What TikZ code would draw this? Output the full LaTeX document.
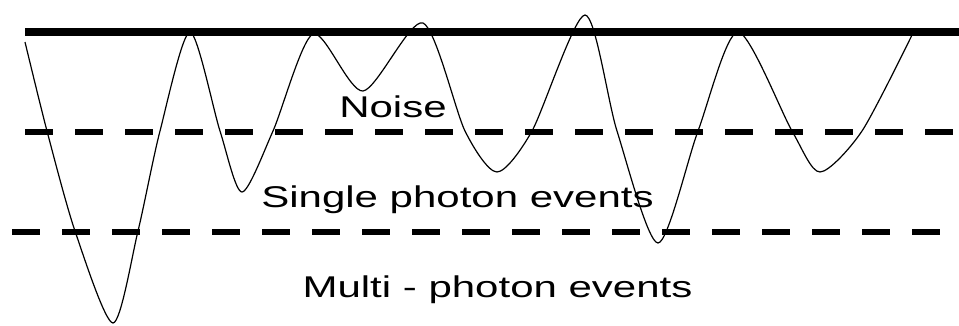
\documentclass[tikz,border=0pt]{standalone}
\usepackage{fontspec}
\setmainfont{Liberation Sans}
\usepackage{tikz}

\begin{document}
\begin{tikzpicture}[
  x=1pt, y=-1pt,
  level/.style={line width=8pt},
  threshold/.style={line width=6pt, dash pattern=on 28pt off 22pt},
  signal/.style={line width=1.2pt, line join=round},
  region/.style={anchor=base, inner sep=0pt, xscale=1.4,
    font=\fontsize{30}{30}\selectfont}
]
\useasboundingbox (0,0) rectangle (959,325);

% baseline and the two discriminator levels
\coordinate (base left) at (25,32);
\coordinate (base right) at (959,32);
\coordinate (low left) at (25,131.5);
\coordinate (low right) at (955,131.5);
\coordinate (high left) at (12,231.5);
\coordinate (high right) at (940,231.5);

\draw[level] (base left) -- (base right);
\draw[threshold] (low left) -- (low right);
\draw[threshold] (high left) -- (high right);

% detector output
\draw[signal] plot[smooth, tension=0.45] coordinates {
  (25,42) (47,131) (75,231) (113,323) (138,231)
  (160,131) (190,32) (220,131) (242,192) (273,131) (313,34)
  (363,91) (423,23) (465,131) (497,172) (532,131) (585,15)
  (617,131) (658,243) (698,131) (738,32)
  (792,131) (820,172) (862,131) (913,33)};

\node[region] (noise) at (393,117) {Noise};
\node[region] (single) at (457.5,207) {Single photon events};
\node[region] (multi) at (497.5,297) {Multi - photon events};
\end{tikzpicture}
\end{document}
